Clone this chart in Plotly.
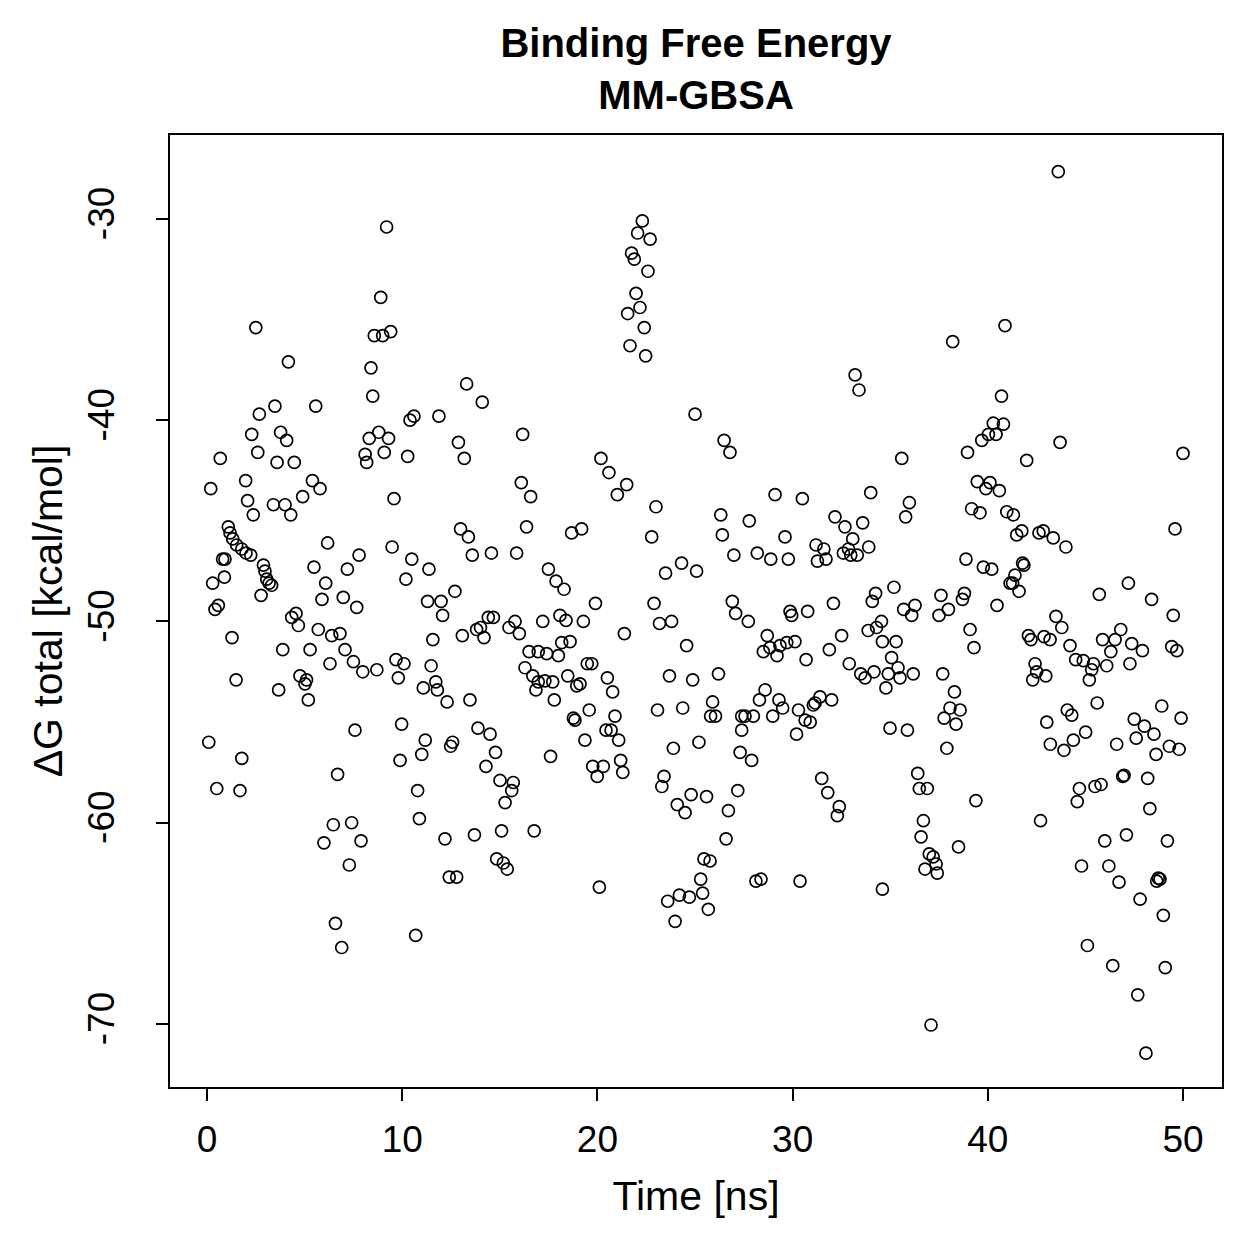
import plotly.graph_objects as go

# ---- data (Time in ns, ΔG total in kcal/mol) ----
time_a = [0.09, 0.19, 0.29, 0.41, 0.5, 0.58, 0.68, 0.8, 0.89, 0.92, 1.09, 1.18, 1.28, 1.32, 1.49, 1.52, 1.69, 1.78, 1.78, 1.98,
          2.0, 2.08, 2.24, 2.29, 2.37, 2.5, 2.6, 2.68, 2.77, 2.89, 2.97, 3.06, 3.18, 3.31, 3.4, 3.48, 3.59, 3.67, 3.77, 3.88,
          4.0, 4.08, 4.17, 4.29, 4.34, 4.47, 4.56, 4.68, 4.76, 4.9, 5.02, 5.1, 5.19, 5.28, 5.4, 5.48, 5.57, 5.7, 5.79, 5.89,
          5.99, 6.08, 6.18, 6.3, 6.39, 6.47, 6.58, 6.69, 6.81, 6.9, 6.98, 7.07, 7.19, 7.29, 7.41, 7.5, 7.58, 7.67, 7.79, 7.89, 7.98]
dg_a = [-56.0, -43.4, -48.1, -49.4, -58.3, -49.2, -41.9, -46.9, -47.8, -46.9, -45.3, -45.6, -50.8, -45.9, -52.9, -46.2, -58.4, -46.4, -56.8, -43.0,
        -46.6, -44.0, -46.7, -40.7, -44.7, -35.4, -41.6, -39.7, -48.7, -47.2, -47.5, -47.9, -48.1, -48.2, -44.2, -39.3, -42.1, -53.4, -40.6, -51.4,
        -44.2, -41.0, -37.1, -44.7, -49.8, -42.1, -49.6, -50.2, -52.7, -43.8, -53.1, -52.9, -53.9, -51.4, -43.0, -47.3, -39.3, -50.4, -43.4, -48.9,
        -61.0, -48.1, -46.1, -52.1, -50.7, -60.1, -65.0, -57.6, -50.6, -66.2, -48.8, -51.4, -47.4, -62.1, -60.0, -52.0, -55.4, -49.3, -46.7, -60.9, -52.5]

time_b = [8.1, 8.18, 8.31, 8.4, 8.49, 8.57, 8.7, 8.8, 8.9, 9.0, 9.08, 9.2, 9.3, 9.41, 9.48, 9.58, 9.68, 9.8, 9.89, 9.97,
          10.09, 10.19, 10.28, 10.4, 10.49, 10.6, 10.69, 10.79, 10.88, 11.0, 11.08, 11.18, 11.3, 11.37, 11.48, 11.57, 11.72, 11.8, 11.88, 11.99,
          12.07, 12.19, 12.3, 12.41, 12.48, 12.58, 12.7, 12.79, 12.88, 12.99, 13.08, 13.18, 13.3, 13.39, 13.47, 13.59, 13.7, 13.81, 13.88, 14.01,
          14.1, 14.19, 14.29, 14.41, 14.5, 14.57, 14.67, 14.78, 14.84, 15.01, 15.09, 15.18, 15.27, 15.38, 15.47, 15.61, 15.69, 15.78, 15.86, 16.0,
          16.1, 16.17, 16.29, 16.37, 16.5, 16.58, 16.69, 16.76, 16.85, 16.97, 16.97]
dg_b = [-41.7, -42.1, -40.9, -37.4, -38.8, -35.8, -52.4, -40.6, -33.9, -35.8, -41.6, -30.4, -40.9, -35.6, -46.3, -43.9, -51.9, -52.8, -56.9, -55.1,
        -52.1, -47.9, -41.8, -40.0, -46.9, -39.8, -65.6, -58.4, -59.8, -56.6, -53.3, -55.9, -49.0, -47.4, -52.2, -50.9, -53.0, -53.4, -39.8, -49.0,
        -49.7, -60.8, -54.0, -62.7, -56.2, -56.0, -48.5, -62.7, -41.1, -45.4, -50.7, -41.9, -38.2, -45.8, -53.9, -46.7, -60.6, -50.4, -55.3, -50.3,
        -39.1, -50.8, -57.2, -49.8, -55.6, -46.6, -49.8, -56.5, -61.8, -57.9, -60.4, -62.0, -59.0, -62.3, -50.3, -58.4, -58.0, -50.0, -46.6, -50.6,
        -43.1, -40.7, -52.3, -45.3, -51.5, -43.8, -52.7, -60.4, -53.4, -51.5, -53.0]

time_c = [17.2, 17.31, 17.4, 17.49, 17.6, 17.71, 17.79, 17.88, 18.0, 18.08, 18.17, 18.29, 18.39, 18.48, 18.6, 18.68, 18.77, 18.85, 18.94, 19.11,
          19.19, 19.28, 19.36, 19.48, 19.58, 19.71, 19.76, 19.9, 19.99, 20.1, 20.18, 20.3, 20.44, 20.51, 20.59, 20.7, 20.78, 20.9, 21.02, 21.09,
          21.19, 21.3, 21.38, 21.5, 21.55, 21.67, 21.75, 21.89, 21.98, 22.06, 22.18, 22.3, 22.4, 22.47, 22.59, 22.7, 22.78, 22.9, 23.0, 23.08,
          23.18, 23.3, 23.41, 23.49, 23.6, 23.69, 23.8, 23.89, 23.98, 24.09, 24.2, 24.31, 24.37, 24.49, 24.57, 24.71, 24.8, 24.88, 25.0, 25.08,
          25.2, 25.29, 25.39, 25.46, 25.59, 25.68, 25.77]
dg_c = [-50.0, -52.95, -51.6, -47.4, -56.7, -53.0, -53.9, -48.0, -51.7, -49.7, -51.05, -48.4, -49.95, -52.7, -51.0, -45.6, -54.8, -54.9, -53.2, -53.1,
        -45.4, -50.0, -55.9, -52.1, -54.4, -52.1, -57.2, -49.1, -57.7, -63.2, -41.9, -57.2, -55.4, -52.8, -42.6, -55.4, -53.5, -54.7, -43.7, -55.9,
        -56.9, -57.5, -50.6, -43.2, -34.7, -36.3, -31.7, -32.0, -33.7, -30.7, -34.4, -30.1, -35.4, -36.8, -32.6, -31.0, -45.8, -49.1, -44.3, -54.4,
        -50.1, -58.2, -57.7, -47.6, -63.9, -52.7, -50.0, -56.3, -64.9, -59.1, -63.6, -47.1, -54.3, -59.5, -51.2, -63.7, -58.6, -52.9, -39.7, -47.5,
        -56.0, -62.8, -63.5, -61.8, -58.7, -64.3, -61.9]

time_d = [25.8, 25.9, 26.05, 26.2, 26.32, 26.4, 26.49, 26.59, 26.71, 26.79, 26.91, 26.99, 27.08, 27.19, 27.31, 27.39, 27.39, 27.56, 27.73, 27.78,
          27.9, 27.99, 28.12, 28.19, 28.3, 28.38, 28.5, 28.59, 28.7, 28.84, 28.88, 28.98, 29.1, 29.2, 29.3, 29.35, 29.49, 29.61, 29.7, 29.78,
          29.87, 29.95, 30.12, 30.2, 30.3, 30.38, 30.5, 30.64, 30.69, 30.77, 30.9, 31.06, 31.15, 31.2, 31.27, 31.4, 31.49, 31.6, 31.71, 31.8,
          31.88, 32.0, 32.09, 32.17, 32.29, 32.39, 32.51, 32.6, 32.68, 32.86, 32.9, 32.98, 33.08, 33.2, 33.31, 33.4, 33.49, 33.59, 33.71, 33.87,
          33.9, 34.0, 34.08, 34.17, 34.25, 34.3, 34.55, 34.6, 34.6]
dg_d = [-54.7, -54.0, -54.7, -52.6, -44.7, -45.7, -41.0, -60.8, -59.4, -41.6, -49.0, -46.7, -49.6, -58.4, -56.5, -54.7, -55.4, -54.7, -50.0, -45.0,
        -56.9, -54.7, -62.9, -46.6, -53.9, -62.8, -51.5, -53.4, -50.7, -51.3, -46.9, -54.7, -43.7, -51.7, -53.9, -51.2, -54.3, -45.8, -51.05, -46.9,
        -49.5, -49.7, -51.0, -55.6, -54.4, -62.9, -43.9, -54.9, -51.9, -49.5, -55.0, -54.15, -54.05, -46.2, -47.0, -53.75, -57.8, -46.4, -46.9, -58.5,
        -51.4, -53.9, -49.1, -44.8, -59.65, -59.2, -50.7, -46.6, -45.3, -46.4, -52.1, -46.7, -45.9, -37.75, -46.7, -38.5, -52.6, -45.1, -52.8, -50.45,
        -46.3, -43.6, -49.0, -52.5, -48.6, -50.3, -50.0, -51.0, -63.3]

time_e = [34.78, 34.9, 34.99, 35.07, 35.19, 35.3, 35.4, 35.5, 35.59, 35.69, 35.79, 35.88, 35.98, 36.1, 36.18, 36.27, 36.41, 36.49, 36.58, 36.7,
          36.78, 36.9, 37.0, 37.09, 37.2, 37.35, 37.41, 37.5, 37.6, 37.69, 37.76, 37.9, 37.98, 38.06, 38.2, 38.29, 38.37, 38.5, 38.58, 38.7,
          38.8, 38.88, 38.96, 39.09, 39.17, 39.29, 39.39, 39.46, 39.6, 39.69, 39.77, 39.9, 40.03, 40.11, 40.2, 40.28, 40.42, 40.47, 40.59, 40.7,
          40.8, 40.88, 40.97, 41.14, 41.27, 41.31, 41.39, 41.48, 41.6, 41.74, 41.78, 41.85, 41.99, 42.08, 42.21, 42.3, 42.42, 42.5, 42.62, 42.7,
          42.84, 42.88, 42.97, 43.02, 43.19, 43.2]
dg_e = [-53.3, -52.6, -55.3, -51.8, -48.3, -51.0, -52.3, -52.8, -41.9, -49.4, -44.8, -55.4, -44.1, -49.7, -52.6, -49.2, -57.55, -58.3, -60.7, -59.9,
        -62.3, -58.3, -61.55, -70.05, -61.7, -62.05, -62.5, -49.7, -48.7, -52.6, -54.8, -56.3, -49.4, -54.3, -36.1, -53.5, -55.1, -61.2, -54.4, -48.9,
        -48.6, -46.9, -41.6, -50.4, -44.4, -51.3, -58.9, -43.05, -44.6, -41.0, -47.3, -43.4, -40.7, -43.1, -47.4, -40.15, -40.7, -49.2, -43.5, -38.8,
        -40.2, -35.3, -44.55, -48.1, -48.1, -44.7, -47.7, -45.7, -48.5, -45.5, -47.1, -47.2, -42.0, -50.7, -50.9, -52.9, -52.1, -52.5, -45.6, -59.9,
        -45.5, -50.75, -52.7, -55.0, -50.9, -56.1]

time_f = [43.35, 43.49, 43.61, 43.7, 43.79, 43.9, 44.0, 44.07, 44.21, 44.3, 44.38, 44.5, 44.58, 44.69, 44.8, 44.89, 45.01, 45.1, 45.2, 45.32,
          45.41, 45.49, 45.6, 45.71, 45.8, 45.88, 45.99, 46.09, 46.2, 46.3, 46.4, 46.52, 46.6, 46.72, 46.81, 46.91, 46.98, 47.1, 47.2, 47.28,
          47.37, 47.5, 47.6, 47.68, 47.8, 47.92, 48.02, 48.1, 48.19, 48.3, 48.39, 48.51, 48.62, 48.65, 48.73, 48.82, 48.91, 48.99, 49.09, 49.2,
          49.3, 49.42, 49.5, 49.59, 49.68, 49.8, 49.9, 50.0]
dg_f = [-45.85, -49.75, -27.65, -41.1, -50.3, -56.4, -46.3, -54.4, -51.2, -54.65, -55.9, -51.9, -58.95, -58.3, -62.15, -51.95, -55.5, -66.1, -52.9, -52.4,
        -52.1, -58.2, -54.05, -48.65, -58.1, -50.9, -60.9, -52.2, -62.15, -51.5, -67.1, -50.9, -56.1, -62.95, -50.4, -57.7, -57.65, -60.6, -48.1, -52.1,
        -51.1, -54.85, -55.8, -68.55, -63.8, -51.45, -55.2, -71.45, -57.8, -59.3, -48.9, -55.6, -56.6, -62.9, -62.75, -62.8, -54.2, -64.6, -67.2, -60.9,
        -56.2, -51.25, -49.7, -45.4, -51.45, -56.35, -54.8, -41.65]

x_ticks = [0, 10, 20, 30, 40, 50]
y_ticks = [-70, -60, -50, -40, -30]
y_tick_labels = ["-70", "-60", "-50", "-40", "-30"]

time_ns = time_a + time_b + time_c + time_d + time_e + time_f
dg_total = dg_a + dg_b + dg_c + dg_d + dg_e + dg_f

FONT = "Liberation Sans, Arial, Helvetica, sans-serif"

fig = go.Figure(
    go.Scatter(
        x=time_ns, y=dg_total, mode="markers",
        marker=dict(symbol="circle-open", size=12, color="black", line=dict(width=1.7, color="black")),
        hoverinfo="x+y", showlegend=False,
    )
)

axis_common = dict(
    showgrid=False, zeroline=False, showline=True, linecolor="black", linewidth=2,
    mirror=True, ticks="outside", ticklen=12, tickwidth=2, tickcolor="black",
    tickfont=dict(family=FONT, size=37, color="black"),
)

fig.update_layout(
    width=1259, height=1259,
    margin=dict(l=170, r=37, t=135, b=172, autoexpand=False),
    paper_bgcolor="white", plot_bgcolor="white",
    font=dict(family=FONT, color="black"),
    title=dict(
        text="<b>Binding Free Energy</b><br><b>MM-GBSA</b>",
        x=0.5, xref="paper", xanchor="center",
        y=1 - 57 / 1259, yref="container", yanchor="middle",
        font=dict(family=FONT, size=40, color="black"),
    ),
    xaxis=dict(
        axis_common, range=[-1.896, 51.996], tickvals=x_ticks,
        ticklabelstandoff=7,
        title=dict(text="Time [ns]", font=dict(family=FONT, size=41, color="black"), standoff=22),
    ),
    yaxis=dict(
        axis_common, range=[-73.13, -25.83], tickvals=y_ticks, ticktext=y_tick_labels,
        tickangle=-90, ticklabelstandoff=27,
        title=dict(text="ΔG total [kcal/mol]", font=dict(family=FONT, size=41, color="black"), standoff=6),
    ),
)

fig.write_html("out.html")
